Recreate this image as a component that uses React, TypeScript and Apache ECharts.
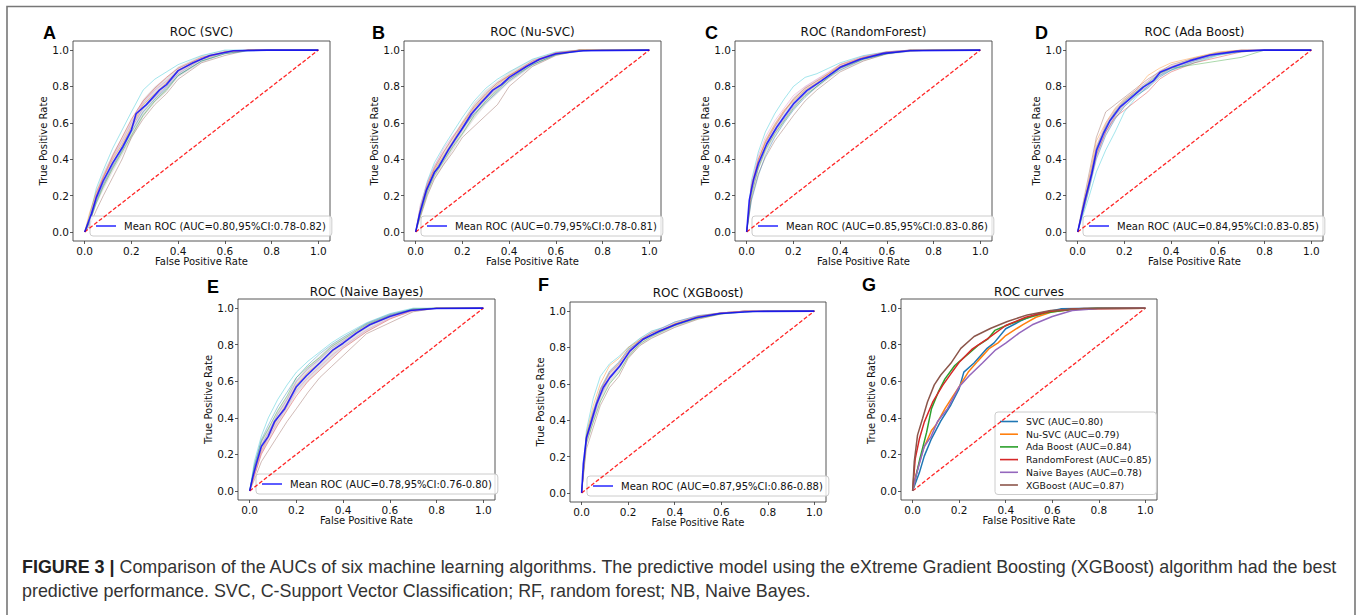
import { useEffect, useRef } from 'react';
import * as echarts from 'echarts';

// ---------- data ----------
const TICKS = [0, 0.2, 0.4, 0.6, 0.8, 1.0];
const FOLD_X = [0, 0.02, 0.05, 0.08, 0.12, 0.16, 0.2, 0.25, 0.3, 0.35, 0.4, 0.5, 0.6, 0.7, 0.8, 1.0];
const DIAGONAL = [[0, 0], [1, 1]];

// Mean ROC curves [fpr, tpr]
const MEAN_SVC = [[0, 0], [0.029, 0.10], [0.05, 0.19], [0.079, 0.28], [0.12, 0.38], [0.164, 0.47], [0.2, 0.56], [0.22, 0.65], [0.264, 0.70], [0.32, 0.78], [0.35, 0.81], [0.40, 0.887], [0.464, 0.93], [0.536, 0.97], [0.636, 0.996], [0.78, 1.0], [1.0, 1.0]];
const MEAN_NUSVC = [[0, 0], [0.017, 0.10], [0.046, 0.23], [0.06, 0.27], [0.081, 0.33], [0.10, 0.36], [0.139, 0.45], [0.174, 0.52], [0.20, 0.57], [0.239, 0.65], [0.28, 0.71], [0.33, 0.78], [0.367, 0.81], [0.40, 0.85], [0.474, 0.91], [0.53, 0.95], [0.60, 0.98], [0.717, 0.996], [1.0, 1.0]];
const MEAN_RF = [[0, 0], [0.011, 0.175], [0.029, 0.285], [0.05, 0.376], [0.086, 0.485], [0.129, 0.577], [0.164, 0.64], [0.20, 0.704], [0.257, 0.777], [0.321, 0.832], [0.40, 0.905], [0.486, 0.95], [0.586, 0.982], [0.70, 0.996], [1.0, 1.0]];
const MEAN_ADA = [[0, 0], [0.031, 0.175], [0.06, 0.32], [0.081, 0.45], [0.11, 0.54], [0.139, 0.613], [0.181, 0.686], [0.239, 0.75], [0.281, 0.796], [0.324, 0.832], [0.353, 0.878], [0.41, 0.909], [0.481, 0.942], [0.567, 0.973], [0.681, 0.993], [0.796, 1.0], [1.0, 1.0]];
const MEAN_NB = [[0, 0], [0.014, 0.078], [0.029, 0.15], [0.05, 0.243], [0.079, 0.297], [0.107, 0.38], [0.15, 0.45], [0.20, 0.57], [0.243, 0.63], [0.30, 0.70], [0.357, 0.772], [0.40, 0.808], [0.457, 0.863], [0.514, 0.909], [0.60, 0.954], [0.686, 0.987], [0.80, 0.998], [1.0, 1.0]];
const MEAN_XGB = [[0, 0], [0.007, 0.16], [0.021, 0.305], [0.043, 0.397], [0.064, 0.488], [0.093, 0.58], [0.121, 0.634], [0.164, 0.698], [0.207, 0.78], [0.264, 0.845], [0.336, 0.89], [0.407, 0.927], [0.493, 0.963], [0.593, 0.987], [0.736, 0.998], [1.0, 1.0]];

// 95% CI band (on FOLD_X)
const LOWER_SVC = [0, 0.04, 0.15, 0.23, 0.33, 0.42, 0.51, 0.63, 0.71, 0.77, 0.85, 0.93, 0.98, 0.995, 1, 1];
const UPPER_SVC = [0, 0.10, 0.23, 0.33, 0.43, 0.52, 0.62, 0.73, 0.80, 0.85, 0.91, 0.97, 1, 1, 1, 1];
const LOWER_NUSVC = [0, 0.08, 0.20, 0.29, 0.37, 0.45, 0.53, 0.62, 0.70, 0.76, 0.82, 0.91, 0.97, 0.99, 1, 1];
const UPPER_NUSVC = [0, 0.14, 0.28, 0.37, 0.45, 0.53, 0.61, 0.71, 0.78, 0.83, 0.88, 0.95, 0.99, 1, 1, 1];
const LOWER_RF = [0, 0.19, 0.34, 0.43, 0.52, 0.60, 0.67, 0.74, 0.79, 0.84, 0.885, 0.94, 0.975, 0.99, 1, 1];
const UPPER_RF = [0, 0.27, 0.41, 0.51, 0.60, 0.67, 0.74, 0.80, 0.84, 0.88, 0.925, 0.97, 0.995, 1, 1, 1];
const LOWER_ADA = [0, 0.09, 0.23, 0.40, 0.53, 0.62, 0.685, 0.745, 0.79, 0.85, 0.885, 0.93, 0.97, 0.99, 1, 1];
const UPPER_ADA = [0, 0.13, 0.31, 0.48, 0.60, 0.68, 0.735, 0.785, 0.83, 0.89, 0.915, 0.96, 0.99, 1, 1, 1];
const LOWER_NB = [0, 0.07, 0.20, 0.27, 0.36, 0.44, 0.53, 0.60, 0.66, 0.72, 0.78, 0.87, 0.94, 0.98, 0.995, 1];
const UPPER_NB = [0, 0.15, 0.28, 0.35, 0.44, 0.52, 0.61, 0.68, 0.74, 0.80, 0.84, 0.92, 0.97, 1, 1, 1];
const LOWER_XGB = [0, 0.26, 0.38, 0.50, 0.60, 0.66, 0.74, 0.81, 0.85, 0.88, 0.91, 0.955, 0.98, 0.995, 1, 1];
const UPPER_XGB = [0, 0.34, 0.46, 0.58, 0.67, 0.72, 0.80, 0.85, 0.89, 0.91, 0.94, 0.975, 0.995, 1, 1, 1];

// Individual fold curves (tpr on FOLD_X)
const FOLDS_SVC = [
  [0, 0.08, 0.24, 0.34, 0.46, 0.56, 0.66, 0.78, 0.84, 0.88, 0.92, 0.97, 1, 1, 1, 1],
  [0, 0.03, 0.12, 0.20, 0.30, 0.40, 0.52, 0.62, 0.70, 0.76, 0.84, 0.93, 0.97, 1, 1, 1],
  [0, 0.06, 0.20, 0.30, 0.42, 0.52, 0.62, 0.72, 0.79, 0.85, 0.90, 0.96, 0.99, 1, 1, 1],
  [0, 0.05, 0.16, 0.25, 0.35, 0.44, 0.53, 0.64, 0.72, 0.78, 0.86, 0.94, 0.98, 1, 1, 1],
  [0, 0.10, 0.22, 0.30, 0.40, 0.48, 0.58, 0.70, 0.76, 0.82, 0.89, 0.95, 0.99, 1, 1, 1],
  [0, 0.04, 0.18, 0.27, 0.37, 0.47, 0.57, 0.68, 0.74, 0.80, 0.87, 0.95, 0.985, 1, 1, 1],
  [0, 0.07, 0.21, 0.31, 0.41, 0.50, 0.60, 0.71, 0.78, 0.83, 0.88, 0.955, 0.99, 1, 1, 1],
  [0, 0.05, 0.17, 0.26, 0.36, 0.45, 0.55, 0.66, 0.73, 0.79, 0.86, 0.94, 0.98, 0.995, 1, 1],
];
const FOLDS_NUSVC = [
  [0, 0.14, 0.28, 0.38, 0.47, 0.55, 0.63, 0.72, 0.79, 0.84, 0.88, 0.95, 0.99, 1, 1, 1],
  [0, 0.08, 0.20, 0.29, 0.37, 0.44, 0.52, 0.58, 0.64, 0.70, 0.80, 0.91, 0.97, 1, 1, 1],
  [0, 0.12, 0.26, 0.35, 0.44, 0.52, 0.60, 0.69, 0.76, 0.82, 0.86, 0.94, 0.985, 1, 1, 1],
  [0, 0.09, 0.22, 0.31, 0.39, 0.47, 0.54, 0.64, 0.72, 0.78, 0.84, 0.92, 0.975, 1, 1, 1],
  [0, 0.13, 0.25, 0.34, 0.42, 0.50, 0.59, 0.68, 0.75, 0.81, 0.86, 0.93, 0.98, 1, 1, 1],
  [0, 0.10, 0.23, 0.32, 0.40, 0.48, 0.56, 0.66, 0.73, 0.79, 0.84, 0.93, 0.98, 0.995, 1, 1],
  [0, 0.15, 0.27, 0.36, 0.46, 0.53, 0.58, 0.67, 0.74, 0.80, 0.85, 0.935, 0.985, 1, 1, 1],
  [0, 0.11, 0.24, 0.33, 0.41, 0.49, 0.57, 0.65, 0.71, 0.77, 0.83, 0.92, 0.975, 0.995, 1, 1],
];
const FOLDS_RF = [
  [0, 0.28, 0.44, 0.55, 0.65, 0.73, 0.80, 0.85, 0.87, 0.90, 0.93, 0.97, 0.99, 1, 1, 1],
  [0, 0.18, 0.32, 0.41, 0.50, 0.57, 0.64, 0.72, 0.78, 0.83, 0.88, 0.94, 0.98, 1, 1, 1],
  [0, 0.25, 0.40, 0.49, 0.58, 0.66, 0.73, 0.79, 0.83, 0.87, 0.91, 0.96, 0.99, 1, 1, 1],
  [0, 0.20, 0.35, 0.45, 0.54, 0.61, 0.68, 0.75, 0.80, 0.85, 0.90, 0.95, 0.98, 1, 1, 1],
  [0, 0.24, 0.39, 0.50, 0.59, 0.67, 0.72, 0.78, 0.82, 0.87, 0.92, 0.96, 0.985, 0.995, 1, 1],
  [0, 0.22, 0.36, 0.46, 0.55, 0.62, 0.69, 0.76, 0.81, 0.86, 0.90, 0.955, 0.985, 1, 1, 1],
  [0, 0.26, 0.42, 0.52, 0.61, 0.68, 0.75, 0.80, 0.84, 0.88, 0.92, 0.965, 0.99, 1, 1, 1],
  [0, 0.17, 0.31, 0.42, 0.52, 0.60, 0.67, 0.74, 0.80, 0.85, 0.89, 0.95, 0.98, 0.995, 1, 1],
];
const FOLDS_ADA = [
  [0, 0.08, 0.20, 0.33, 0.45, 0.55, 0.66, 0.74, 0.80, 0.86, 0.89, 0.93, 0.97, 0.995, 1, 1],
  [0, 0.14, 0.33, 0.52, 0.66, 0.70, 0.74, 0.79, 0.84, 0.88, 0.92, 0.955, 0.985, 1, 1, 1],
  [0, 0.10, 0.26, 0.42, 0.55, 0.63, 0.67, 0.72, 0.77, 0.84, 0.88, 0.93, 0.96, 0.99, 1, 1],
  [0, 0.12, 0.28, 0.46, 0.58, 0.66, 0.72, 0.77, 0.82, 0.87, 0.90, 0.92, 0.94, 0.96, 1, 1],
  [0, 0.12, 0.30, 0.50, 0.60, 0.68, 0.73, 0.78, 0.86, 0.90, 0.93, 0.96, 0.99, 1, 1, 1],
  [0, 0.10, 0.25, 0.43, 0.55, 0.64, 0.70, 0.76, 0.80, 0.86, 0.90, 0.945, 0.98, 1, 1, 1],
  [0, 0.11, 0.29, 0.47, 0.59, 0.67, 0.72, 0.78, 0.83, 0.88, 0.91, 0.95, 0.98, 0.995, 1, 1],
  [0, 0.09, 0.24, 0.40, 0.53, 0.62, 0.69, 0.75, 0.79, 0.85, 0.89, 0.94, 0.975, 0.99, 1, 1],
];
const FOLDS_NB = [
  [0, 0.16, 0.30, 0.40, 0.50, 0.58, 0.65, 0.71, 0.76, 0.81, 0.85, 0.92, 0.97, 1, 1, 1],
  [0, 0.06, 0.16, 0.22, 0.30, 0.38, 0.45, 0.54, 0.62, 0.68, 0.74, 0.86, 0.92, 0.98, 1, 1],
  [0, 0.08, 0.20, 0.27, 0.36, 0.44, 0.52, 0.60, 0.66, 0.72, 0.78, 0.87, 0.94, 0.99, 1, 1],
  [0, 0.13, 0.27, 0.34, 0.44, 0.52, 0.62, 0.68, 0.73, 0.79, 0.83, 0.91, 0.96, 0.995, 1, 1],
  [0, 0.10, 0.22, 0.30, 0.40, 0.48, 0.58, 0.65, 0.70, 0.76, 0.81, 0.90, 0.955, 0.99, 1, 1],
  [0, 0.12, 0.25, 0.32, 0.42, 0.50, 0.60, 0.67, 0.72, 0.78, 0.82, 0.905, 0.96, 0.99, 1, 1],
  [0, 0.09, 0.21, 0.29, 0.38, 0.46, 0.55, 0.62, 0.68, 0.74, 0.79, 0.88, 0.945, 0.985, 1, 1],
  [0, 0.14, 0.28, 0.36, 0.46, 0.54, 0.62, 0.69, 0.75, 0.80, 0.84, 0.915, 0.965, 0.995, 1, 1],
];
const FOLDS_XGB = [
  [0, 0.34, 0.52, 0.64, 0.71, 0.75, 0.80, 0.85, 0.89, 0.91, 0.94, 0.975, 0.99, 1, 1, 1],
  [0, 0.24, 0.36, 0.48, 0.58, 0.64, 0.74, 0.81, 0.85, 0.88, 0.91, 0.955, 0.985, 1, 1, 1],
  [0, 0.30, 0.44, 0.56, 0.66, 0.71, 0.78, 0.84, 0.88, 0.90, 0.93, 0.97, 0.99, 1, 1, 1],
  [0, 0.27, 0.39, 0.50, 0.60, 0.66, 0.75, 0.82, 0.86, 0.89, 0.92, 0.96, 0.985, 0.995, 1, 1],
  [0, 0.32, 0.48, 0.60, 0.70, 0.74, 0.80, 0.84, 0.87, 0.90, 0.93, 0.97, 0.99, 1, 1, 1],
  [0, 0.29, 0.41, 0.53, 0.63, 0.69, 0.77, 0.84, 0.88, 0.91, 0.94, 0.975, 0.99, 1, 1, 1],
  [0, 0.28, 0.43, 0.55, 0.64, 0.70, 0.76, 0.83, 0.87, 0.90, 0.925, 0.965, 0.99, 1, 1, 1],
  [0, 0.31, 0.45, 0.57, 0.67, 0.72, 0.79, 0.83, 0.87, 0.895, 0.925, 0.965, 0.985, 0.995, 1, 1],
];

const MODEL_NAMES = ['SVC (AUC=0.80)', 'Nu-SVC (AUC=0.79)', 'Ada Boost (AUC=0.84)', 'RandomForest (AUC=0.85)', 'Naive Bayes (AUC=0.78)', 'XGBoost (AUC=0.87)'];
const MODEL_MEANS = [MEAN_SVC, MEAN_NUSVC, MEAN_ADA, MEAN_RF, MEAN_NB, MEAN_XGB];

const CAPTION_BOLD = 'FIGURE 3 |';
const CAPTION_LINE1 = ' Comparison of the AUCs of six machine learning algorithms. The predictive model using the eXtreme Gradient Boosting (XGBoost) algorithm had the best';
const CAPTION_LINE2 = 'predictive performance. SVC, C-Support Vector Classification; RF, random forest; NB, Naive Bayes.';

// ---------- layout / style ----------
const TAB10 = ['#1f77b4', '#ff7f0e', '#2ca02c', '#d62728', '#9467bd', '#8c564b', '#e377c2', '#7f7f7f', '#bcbd22', '#17becf'];
const FOLD_COLORS = ['#17becf', '#8c564b', '#d62728', '#2ca02c', '#ff7f0e', '#9467bd', '#e377c2', '#1f77b4'];
const FONT = '"DejaVu Sans", sans-serif';
const CAP_FONT = '"Liberation Sans", Arial, sans-serif';

const PANELS = [
  { letter: 'A', title: 'ROC (SVC)', legend: 'Mean ROC (AUC=0.80,95%CI:0.78-0.82)', mean: MEAN_SVC, folds: FOLDS_SVC, lower: LOWER_SVC, upper: UPPER_SVC, grid: { left: 73, top: 41, width: 257, height: 200 }, leg: [90, 216], lab: [43, 33], titleY: 32 },
  { letter: 'B', title: 'ROC (Nu-SVC)', legend: 'Mean ROC (AUC=0.79,95%CI:0.78-0.81)', mean: MEAN_NUSVC, folds: FOLDS_NUSVC, lower: LOWER_NUSVC, upper: UPPER_NUSVC, grid: { left: 404, top: 41, width: 257, height: 200 }, leg: [421, 216], lab: [372, 33], titleY: 32 },
  { letter: 'C', title: 'ROC (RandomForest)', legend: 'Mean ROC (AUC=0.85,95%CI:0.83-0.86)', mean: MEAN_RF, folds: FOLDS_RF, lower: LOWER_RF, upper: UPPER_RF, grid: { left: 735, top: 41, width: 257, height: 200 }, leg: [752, 216], lab: [705, 33], titleY: 32 },
  { letter: 'D', title: 'ROC (Ada Boost)', legend: 'Mean ROC (AUC=0.84,95%CI:0.83-0.85)', mean: MEAN_ADA, folds: FOLDS_ADA, lower: LOWER_ADA, upper: UPPER_ADA, grid: { left: 1066, top: 41, width: 257, height: 200 }, leg: [1083, 216], lab: [1035, 33], titleY: 32 },
  { letter: 'E', title: 'ROC (Naive Bayes)', legend: 'Mean ROC (AUC=0.78,95%CI:0.76-0.80)', mean: MEAN_NB, folds: FOLDS_NB, lower: LOWER_NB, upper: UPPER_NB, grid: { left: 238, top: 299, width: 257, height: 201 }, leg: [256, 474], lab: [207, 287], titleY: 292 },
  { letter: 'F', title: 'ROC (XGBoost)', legend: 'Mean ROC (AUC=0.87,95%CI:0.86-0.88)', mean: MEAN_XGB, folds: FOLDS_XGB, lower: LOWER_XGB, upper: UPPER_XGB, grid: { left: 570, top: 302, width: 256, height: 200 }, leg: [587, 476], lab: [538, 285], titleY: 293 },
];
const PANEL_G = { letter: 'G', title: 'ROC curves', grid: { left: 901, top: 299, width: 256, height: 201 }, leg: [995, 412], lab: [862, 285], titleY: 292 };

export default function App() {
  const ref = useRef<HTMLDivElement>(null);

  useEffect(() => {
    document.body.style.margin = '0';
    if (!ref.current) return;
    const chart = echarts.init(ref.current, null, { renderer: 'svg' });

    const allPanels = [...PANELS, PANEL_G];
    const grids = allPanels.map((p) => ({ ...p.grid, show: true, borderColor: '#444', borderWidth: 0.9, backgroundColor: 'transparent', containLabel: false }));

    const axisCommon = {
      type: 'value',
      min: -0.05,
      max: 1.05,
      splitLine: { show: false },
      axisLine: { show: false, onZero: false },
      axisTick: { show: true, customValues: TICKS, length: 3, lineStyle: { color: '#333', width: 0.8 } },
      axisLabel: { customValues: TICKS, formatter: (v: number) => v.toFixed(1), fontSize: 10.5, color: '#111', fontFamily: FONT },
      nameLocation: 'middle',
      nameTextStyle: { fontSize: 10, color: '#111', fontFamily: FONT },
    };
    const xAxes = allPanels.map((_, i) => ({ ...axisCommon, gridIndex: i, name: 'False Positive Rate', nameGap: 15, axisLabel: { ...axisCommon.axisLabel, margin: 4 } }));
    const yAxes = allPanels.map((_, i) => ({ ...axisCommon, gridIndex: i, name: 'True Positive Rate', nameGap: 22, axisLabel: { ...axisCommon.axisLabel, margin: 4 } }));

    const series: any[] = [];
    const legends: any[] = [];
    const diag = (i: number) => ({
      type: 'line', name: `diag${i}`, xAxisIndex: i, yAxisIndex: i, data: DIAGONAL, symbol: 'none', silent: true, z: 4,
      lineStyle: { color: 'rgba(255,0,0,0.85)', width: 1.3, type: [4, 2] },
    });

    PANELS.forEach((p, i) => {
      p.folds.forEach((ys, k) => {
        series.push({
          type: 'line', name: `${p.letter}-fold-${k + 1}`, xAxisIndex: i, yAxisIndex: i, symbol: 'none', silent: true, z: 2,
          data: FOLD_X.map((x, j) => [x, ys[j]]),
          lineStyle: { color: FOLD_COLORS[k % FOLD_COLORS.length], width: 1, opacity: 0.4 },
        });
      });
      const lower = p.lower;
      const upper = p.upper;
      series.push({
        type: 'custom', name: `${p.letter}-band`, xAxisIndex: i, yAxisIndex: i, silent: true, z: 1,
        data: [[0, 0]],
        renderItem: (_params: any, api: any) => {
          const pts: number[][] = [];
          FOLD_X.forEach((x, j) => pts.push(api.coord([x, upper[j]])));
          for (let j = FOLD_X.length - 1; j >= 0; j--) pts.push(api.coord([FOLD_X[j], lower[j]]));
          return { type: 'polygon', shape: { points: pts }, style: { fill: 'rgba(128,128,128,0.22)', stroke: 'none' } };
        },
      });
      series.push(diag(i));
      series.push({
        type: 'line', name: p.legend, xAxisIndex: i, yAxisIndex: i, symbol: 'none', z: 5,
        data: p.mean, color: 'rgba(0,0,255,0.8)', lineStyle: { width: 1.6 },
      });
      legends.push({
        data: [p.legend], left: p.leg[0], top: p.leg[1], orient: 'horizontal',
        icon: 'rect', itemWidth: 20, itemHeight: 1.6, padding: [5, 6],
        backgroundColor: 'rgba(255,255,255,0.8)', borderColor: '#cccccc', borderWidth: 1, borderRadius: 3,
        textStyle: { fontSize: 10, color: '#111', fontFamily: FONT, padding: [0, 0, 0, 3] },
        selectedMode: false,
      });
    });

    const gi = PANELS.length;
    series.push(diag(gi));
    MODEL_MEANS.forEach((m, k) => {
      series.push({
        type: 'line', name: MODEL_NAMES[k], xAxisIndex: gi, yAxisIndex: gi, symbol: 'none', z: 5,
        data: m, color: TAB10[k], lineStyle: { width: 1.5 },
      });
    });
    legends.push({
      data: MODEL_NAMES, left: PANEL_G.leg[0], top: PANEL_G.leg[1], orient: 'vertical',
      icon: 'rect', itemWidth: 18, itemHeight: 1.6, itemGap: 1.7, padding: [4, 5],
      backgroundColor: 'rgba(255,255,255,0.8)', borderColor: '#cccccc', borderWidth: 1, borderRadius: 3,
      textStyle: { fontSize: 9.3, lineHeight: 11, color: '#111', fontFamily: FONT, padding: [0, 0, 0, 3] },
      selectedMode: false,
    });

    const graphics: any[] = [
      {
        type: 'polyline', silent: true,
        shape: { points: [[7, 615], [7, 6.5], [1355, 6.5], [1355, 615]] },
        style: { stroke: '#777', lineWidth: 1.6, fill: null },
      },
    ];
    allPanels.forEach((p) => {
      graphics.push({
        type: 'text', x: p.lab[0], y: p.lab[1], silent: true,
        style: { text: p.letter, font: `bold 18px ${CAP_FONT}`, fill: '#000', verticalAlign: 'middle', align: 'left' },
      });
      graphics.push({
        type: 'text', x: p.grid.left + p.grid.width / 2, y: p.titleY, silent: true,
        style: { text: p.title, fontSize: 12, fontFamily: FONT, fill: '#111', align: 'center', verticalAlign: 'middle' },
      });
    });
    graphics.push({
      type: 'text', x: 22, y: 555, silent: true,
      style: {
        text: `{b|${CAPTION_BOLD}}${CAPTION_LINE1}\n${CAPTION_LINE2}`,
        fontSize: 17.9, fontFamily: CAP_FONT, fill: '#333', lineHeight: 24, verticalAlign: 'top',
        rich: { b: { fontWeight: 'bold', fontSize: 17.9, fontFamily: CAP_FONT, fill: '#222', lineHeight: 24 } },
      },
    });

    chart.setOption({
      animation: false,
      backgroundColor: '#ffffff',
      grid: grids,
      xAxis: xAxes,
      yAxis: yAxes,
      legend: legends,
      series,
      graphic: graphics,
    });

    return () => chart.dispose();
  }, []);

  return <div ref={ref} style={{ width: 1358, height: 615 }} />;
}
